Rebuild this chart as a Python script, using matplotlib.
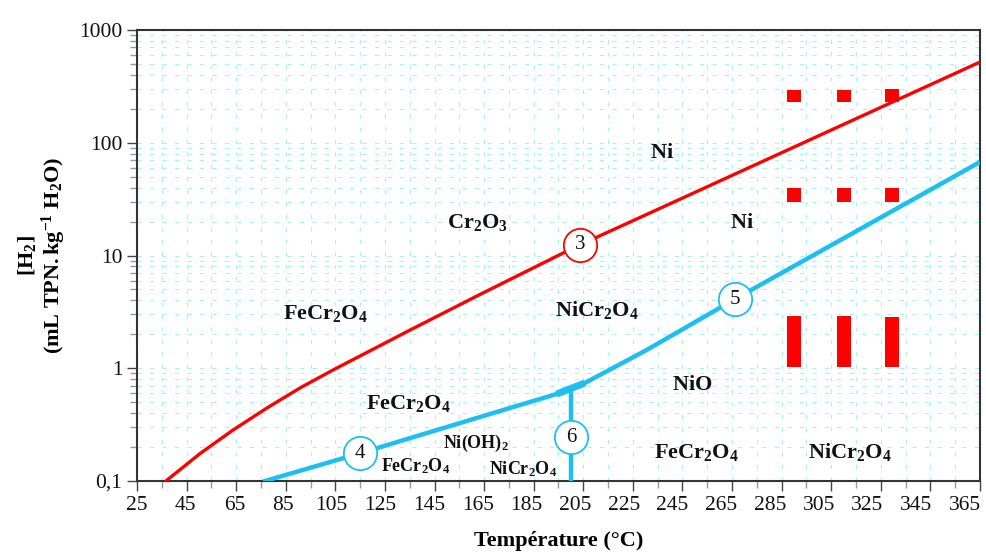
import matplotlib
matplotlib.use("Agg")
import matplotlib.pyplot as plt
from matplotlib.ticker import FixedLocator, FuncFormatter, LogLocator, NullFormatter
from matplotlib.transforms import ScaledTranslation

plt.rcParams['font.family'] = ['Liberation Serif', 'DejaVu Serif']
plt.rcParams['mathtext.fontset'] = 'custom'
plt.rcParams['mathtext.rm'] = 'Liberation Serif'
plt.rcParams['mathtext.it'] = 'Liberation Serif:italic'
plt.rcParams['mathtext.bf'] = 'Liberation Serif:bold'
plt.rcParams['lines.scale_dashes'] = False

# ---- data ----
red_T = [36.3, 50.4, 63.7, 77.4, 90.7, 104.0, 117.7, 135.1, 163.3, 196.8, 203.6, 252, 333, 365]
red_H2 = [0.0986, 0.175, 0.283, 0.444, 0.668, 0.964, 1.38, 2.18, 4.51, 10.5, 12.4, 38, 248, 520]

blue_T = [75.9, 114.9, 135.1, 171.4, 194.2, 200, 205.6, 230.5, 266.1, 365]
blue_H2 = [0.099, 0.176, 0.240, 0.418, 0.591, 0.66, 0.74, 1.45, 4.1, 67.5]

vert_T = [200, 200]
vert_H2 = [0.1, 0.66]

junction_T = [194.2, 205.6]
junction_H2 = [0.59, 0.74]

# measured ranges (red rectangles)
rect_T = [290, 310, 329.5]
rect_top_low = [230, 230, 230]
rect_top_high = [295, 295, 300]
rect_mid_low = [29.8, 29.8, 29.8]
rect_mid_high = [39.7, 39.7, 39.7]
rect_bot_low = [1.03, 1.03, 1.02]
rect_bot_high = [2.9, 2.9, 2.85]

circle_T = [203.6, 114.9, 266.1, 200]
circle_H2 = [12.4, 0.176, 4.1, 0.245]
circle_txt = ['3', '4', '5', '6']
circle_col = ['#ff0000', '#1cbff0', '#1cbff0', '#1cbff0']

labels_big = [
    (236.7, 81, r'$\mathbf{Ni}$'),
    (162.5, 19.8, r'$\mathbf{Cr_2O_3}$'),
    (268.9, 19.4, r'$\mathbf{Ni}$'),
    (100.8, 3.09, r'$\mathbf{FeCr_2O_4}$'),
    (210.5, 3.29, r'$\mathbf{NiCr_2O_4}$'),
    (134.3, 0.49, r'$\mathbf{FeCr_2O_4}$'),
    (248.8, 0.70, r'$\mathbf{NiO}$'),
    (250.8, 0.18, r'$\mathbf{FeCr_2O_4}$'),
    (312.5, 0.18, r'$\mathbf{NiCr_2O_4}$'),
]
labels_small = [
    (161.7, 0.217, r'$\mathbf{Ni(OH)_2}$'),
    (137.5, 0.136, r'$\mathbf{FeCr_2O_4}$'),
    (180.6, 0.128, r'$\mathbf{NiCr_2O_4}$'),
]

x_major = list(range(25, 366, 20))
y_major = [0.1, 1, 10, 100, 1000]
y_major_labels = ['0,1', '1', '10', '100', '1000']

RED = '#ff0000'
BLUE = '#1cbff0'

fig = plt.figure(figsize=(9.87, 5.59), dpi=100)
ax = fig.add_axes([0.1388, 0.1395, 0.8541, 0.8068])
ax.set_yscale('log')
ax.set_xlim(25, 365)
ax.set_ylim(0.1, 1000)

ax.set_xticks(x_major)
ax.xaxis.set_minor_locator(FixedLocator(list(range(35, 366, 20))))
ax.yaxis.set_major_locator(FixedLocator(y_major))
ax.yaxis.set_major_formatter(FuncFormatter(lambda v, p: y_major_labels[y_major.index(v)] if v in y_major else ''))
ax.yaxis.set_minor_locator(LogLocator(base=10, subs=range(2, 10)))
ax.yaxis.set_minor_formatter(NullFormatter())
ax.grid(True, which='both', color='#a6f3f3', linestyle=(0, (3, 6)), linewidth=0.8)
ax.set_axisbelow(True)

ax.tick_params(axis='both', which='major', labelsize=15.5, direction='out', length=7, width=1, color='#444444', labelcolor='#111111')
ax.tick_params(axis='both', which='minor', direction='out', length=5, width=1, color='#999999')
for s in ax.spines.values():
    s.set_color('#333333')
    s.set_linewidth(1.5)

# x tick labels are slightly more tightly spaced than the ticks in the reference
for i, lbl in enumerate(ax.get_xticklabels()):
    lbl.set_transform(lbl.get_transform() + ScaledTranslation(-0.9 * i / 100.0, 0, fig.dpi_scale_trans))

# rectangles
w = 5.6
ax.bar(rect_T, [h - l for h, l in zip(rect_top_high, rect_top_low)], bottom=rect_top_low, width=w, color=RED, zorder=3)
ax.bar(rect_T, [h - l for h, l in zip(rect_mid_high, rect_mid_low)], bottom=rect_mid_low, width=w, color=RED, zorder=3)
ax.bar(rect_T, [h - l for h, l in zip(rect_bot_high, rect_bot_low)], bottom=rect_bot_low, width=w, color=RED, zorder=3)

# curves
ax.plot(red_T, red_H2, color=RED, lw=2.4, zorder=4, solid_capstyle='butt', solid_joinstyle='round')
ax.plot(blue_T, blue_H2, color=BLUE, lw=3.2, zorder=4, solid_capstyle='butt', solid_joinstyle='round')
ax.plot(vert_T, vert_H2, color=BLUE, lw=3.2, zorder=4, solid_capstyle='butt')
ax.plot(junction_T, junction_H2, color=BLUE, lw=5, zorder=4, solid_capstyle='butt')

# circles
for t, v, s, c in zip(circle_T, circle_H2, circle_txt, circle_col):
    ax.plot([t], [v], marker='o', ms=24, mfc='white', mec=c, mew=1.3, zorder=5)
    ax.text(t, v, s, ha='center', va='center', fontsize=15, color='#111111', zorder=6)

for t, v, s in labels_big:
    ax.text(t, v, s, ha='center', va='center', fontsize=16, color='#111111', zorder=6)
for t, v, s in labels_small:
    ax.text(t, v, s, ha='center', va='center', fontsize=13, color='#111111', zorder=6)

ax.set_xlabel('Température (°C)', fontsize=16, fontweight='bold', labelpad=12)
ax.set_ylabel(r'$\mathbf{[H_2]}$' + '\n' + r'$\mathbf{(mL\ TPN.kg^{-1}\ H_2O)}$', fontsize=16, labelpad=8, linespacing=1.1)

fig.savefig('out.png', dpi=100)
